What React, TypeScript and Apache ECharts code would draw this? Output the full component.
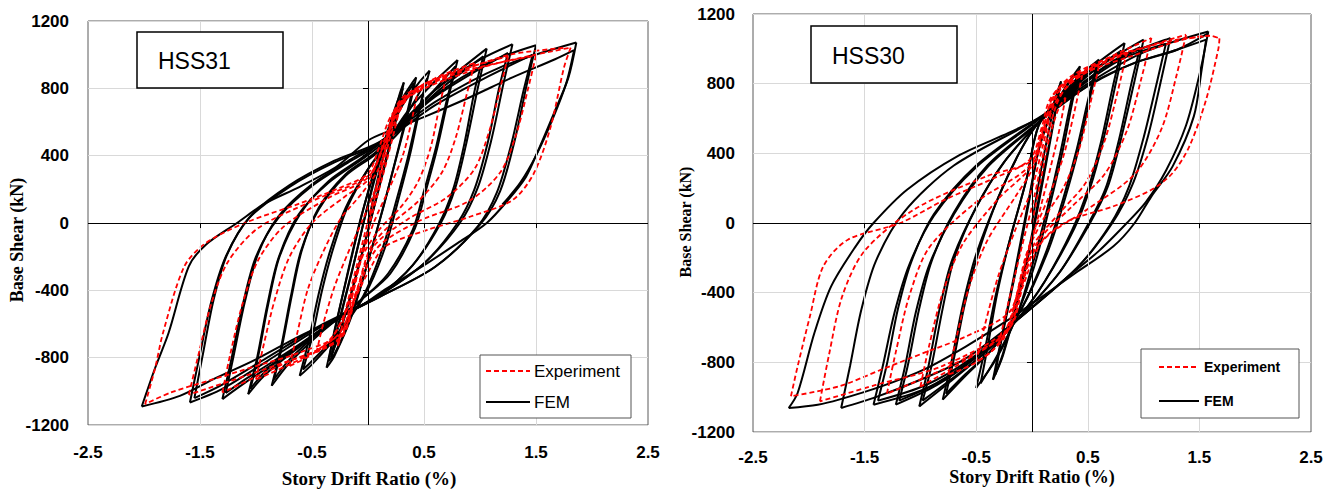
import React, { useEffect, useRef } from "react";
import * as echarts from "echarts";

const xTicks = [-2.5, -1.5, -0.5, 0.5, 1.5, 2.5];
const yTicks = [-1200, -800, -400, 0, 400, 800, 1200];
const seriesNames = ["Experiment", "FEM"];
const panelTitles = ["HSS31", "HSS30"];
const xAxisName = "Story Drift Ratio (%)";
const yAxisName = "Base Shear (kN)";

const femHSS31: number[][] = [
  [0, 0], [0.1, 300], [0.2, 560], [0.28, 760], [0.32, 835],
  [0.26, 650], [0.16, 380], [0.04, 60], [-0.1, -300], [-0.24, -620], [-0.33, -800],
  [-0.26, -600], [-0.14, -280], [-0.02, 60], [0.1, 380], [0.24, 680], [0.31, 800],
  [0.25, 610], [0.15, 340], [0.03, 30], [-0.11, -320], [-0.24, -630], [-0.32, -770],
  [-0.25, -560], [-0.13, -250], [-0.01, 80], [0.12, 400], [0.3, 730], [0.43, 865],
  [0.36, 660], [0.25, 380], [0.14, 100], [0.0, -230], [-0.15, -560], [-0.3, -790], [-0.37, -859],
  [-0.3, -650], [-0.19, -320], [-0.06, 40], [0.1, 390], [0.28, 690], [0.41, 830],
  [0.34, 630], [0.24, 360], [0.13, 80], [-0.01, -250], [-0.16, -570], [-0.3, -780], [-0.35, -820],
  [-0.3, -640], [-0.18, -300], [-0.05, 60], [0.1, 400], [0.3, 690], [0.45, 830], [0.55, 905],
  [0.47, 700], [0.38, 420], [0.28, 160], [0.15, -150], [-0.03, -430], [-0.3, -690], [-0.5, -840], [-0.61, -908],
  [-0.53, -700], [-0.44, -420], [-0.34, -170], [-0.2, 90], [0.0, 320], [0.15, 450], [0.35, 650], [0.53, 860],
  [0.45, 660], [0.36, 400], [0.26, 150], [0.13, -150], [-0.04, -430], [-0.3, -680], [-0.5, -820], [-0.58, -870],
  [-0.5, -680], [-0.41, -400], [-0.31, -150], [-0.18, 100], [0.0, 320], [0.15, 460], [0.35, 660], [0.58, 830], [0.8, 968],
  [0.72, 750], [0.62, 450], [0.52, 200], [0.42, -30], [0.2, -300], [-0.05, -450], [-0.4, -640], [-0.7, -830], [-0.86, -967],
  [-0.78, -750], [-0.69, -440], [-0.6, -170], [-0.44, 80], [-0.2, 280], [0.05, 400], [0.25, 520], [0.5, 720], [0.78, 930],
  [0.7, 720], [0.6, 430], [0.5, 190], [0.4, -40], [0.18, -300], [-0.05, -450], [-0.4, -630], [-0.7, -810], [-0.84, -930],
  [-0.77, -740], [-0.68, -430], [-0.59, -160], [-0.44, 90], [-0.2, 290], [0.05, 410], [0.25, 540], [0.55, 760], [0.82, 910], [1.06, 1036],
  [0.98, 800], [0.88, 480], [0.78, 210], [0.65, 0], [0.4, -250], [0.1, -430], [-0.2, -540], [-0.6, -730], [-0.9, -890], [-1.07, -1017],
  [-0.99, -800], [-0.9, -490], [-0.8, -210], [-0.62, 50], [-0.35, 240], [-0.05, 380], [0.2, 510], [0.6, 770], [1.03, 990],
  [0.95, 780], [0.86, 470], [0.76, 200], [0.63, -10], [0.4, -250], [0.1, -430], [-0.2, -540], [-0.6, -720], [-0.9, -870], [-1.05, -985],
  [-0.98, -790], [-0.89, -480], [-0.79, -200], [-0.6, 60], [-0.35, 250], [-0.05, 390], [0.2, 530], [0.6, 790], [1.0, 970], [1.29, 1062],
  [1.21, 830], [1.1, 490], [0.98, 210], [0.82, 0], [0.5, -240], [0.1, -430], [-0.3, -580], [-0.7, -770], [-1.1, -950], [-1.3, -1046],
  [-1.22, -810], [-1.12, -490], [-1.0, -200], [-0.8, 30], [-0.5, 220], [-0.15, 370], [0.15, 490], [0.6, 750], [1.25, 1010],
  [1.17, 800], [1.07, 480], [0.95, 200], [0.8, 0], [0.5, -240], [0.1, -430], [-0.3, -580], [-0.7, -760], [-1.1, -930], [-1.27, -1010],
  [-1.2, -790], [-1.1, -470], [-0.98, -180], [-0.8, 40], [-0.5, 230], [-0.15, 380], [0.15, 500], [0.6, 760], [1.1, 960], [1.5, 1056],
  [1.42, 830], [1.31, 490], [1.18, 190], [1.0, -10], [0.6, -260], [0.1, -440], [-0.4, -610], [-0.9, -820], [-1.3, -985], [-1.59, -1066],
  [-1.51, -810], [-1.4, -470], [-1.27, -200], [-1.06, 30], [-0.7, 215], [-0.3, 360], [0.1, 470], [0.6, 700], [1.1, 880], [1.47, 1000],
  [1.39, 790], [1.28, 470], [1.15, 180], [0.98, -20], [0.6, -260], [0.1, -440], [-0.4, -600], [-0.9, -800], [-1.3, -960], [-1.55, -1040],
  [-1.48, -800], [-1.38, -460], [-1.26, -190], [-1.05, 40], [-0.7, 225], [-0.3, 370], [0.1, 480], [0.6, 720], [1.2, 930], [1.86, 1072],
  [1.79, 865], [1.67, 668], [1.52, 432], [1.41, 274], [1.25, 136], [1.06, 0], [0.8, -120], [0.53, -238], [0.15, -396], [0, -465],
  [-0.23, -554], [-0.61, -672], [-1.0, -810], [-1.38, -928], [-1.68, -1027], [-2.02, -1090],
  [-1.9, -860], [-1.78, -652], [-1.6, -258], [-1.45, -130], [-1.17, 0], [-0.92, 116], [-0.61, 215], [-0.27, 340], [0, 490],
  [0.22, 555], [0.53, 638], [0.91, 747], [1.29, 865], [1.67, 973], [1.84, 1027],
  [1.77, 830], [1.65, 620], [1.5, 400], [1.36, 240], [1.2, 110]
];

const expHSS31: number[][] = [
  [0, 0], [0.08, 200], [0.16, 450], [0.24, 650], [0.3, 730],
  [0.24, 560], [0.14, 300], [0.04, 60], [-0.08, -250], [-0.18, -550], [-0.27, -731],
  [-0.2, -520], [-0.08, -200], [0.04, 120], [0.15, 420], [0.25, 650], [0.35, 760], [0.45, 800],
  [0.4, 640], [0.32, 420], [0.2, 220], [0.05, 0], [-0.08, -250], [-0.2, -520], [-0.32, -680], [-0.46, -770],
  [-0.4, -600], [-0.3, -380], [-0.18, -180], [-0.02, 60], [0.12, 300], [0.22, 560], [0.35, 740], [0.52, 820], [0.7, 870],
  [0.64, 700], [0.56, 450], [0.45, 250], [0.3, 100], [0.1, -40], [-0.05, -200], [-0.15, -450], [-0.3, -660], [-0.5, -780], [-0.7, -850],
  [-0.63, -650], [-0.54, -400], [-0.42, -200], [-0.25, 20], [-0.05, 180], [0.1, 330], [0.2, 560], [0.35, 750], [0.6, 860], [0.95, 950],
  [0.88, 760], [0.78, 500], [0.66, 300], [0.45, 130], [0.2, -10], [0.02, -150], [-0.1, -400], [-0.25, -650], [-0.55, -790], [-1.0, -930],
  [-0.93, -720], [-0.83, -450], [-0.7, -200], [-0.5, 0], [-0.2, 160], [0.02, 270], [0.15, 500], [0.3, 740], [0.7, 880], [1.25, 990],
  [1.18, 800], [1.08, 540], [0.95, 320], [0.7, 150], [0.35, 20], [0.05, -140], [-0.1, -400], [-0.25, -680], [-0.7, -820], [-1.3, -1007],
  [-1.23, -780], [-1.12, -480], [-0.98, -220], [-0.75, -20], [-0.35, 150], [0.0, 270], [0.15, 480], [0.3, 720], [0.8, 890], [1.5, 995],
  [1.43, 800], [1.32, 520], [1.18, 300], [0.9, 130], [0.45, 10], [0.08, -150], [-0.1, -420], [-0.25, -690], [-0.8, -840], [-1.6, -1020],
  [-1.52, -800], [-1.4, -480], [-1.25, -230], [-0.98, -30], [-0.5, 130], [0, 280], [0.15, 470], [0.3, 720], [1.0, 920], [1.81, 1042],
  [1.75, 924], [1.63, 569], [1.48, 294], [1.29, 136], [0.91, 37], [0.53, -41], [0.15, -140], [0.03, -258], [-0.12, -455],
  [-0.23, -652], [-0.61, -770], [-1.0, -850], [-1.38, -928], [-1.76, -1007], [-1.99, -1076],
  [-1.9, -860], [-1.83, -652], [-1.64, -258], [-1.45, -120], [-1.1, 0], [-0.61, 116], [-0.23, 215], [0, 294], [0.1, 450],
  [0.22, 650], [0.5, 820], [0.91, 924], [1.29, 1003], [1.75, 1040]
];

const femHSS30: number[][] = [
  [0, 0], [0.08, 300], [0.16, 560], [0.22, 730], [0.26, 813],
  [0.2, 600], [0.1, 250], [-0.02, -150], [-0.14, -480], [-0.26, -760], [-0.35, -900],
  [-0.28, -680], [-0.16, -300], [-0.04, 100], [0.06, 420], [0.16, 620], [0.25, 790],
  [0.19, 580], [0.09, 240], [-0.03, -160], [-0.15, -490], [-0.26, -750], [-0.33, -870],
  [-0.27, -660], [-0.15, -290], [-0.03, 110], [0.06, 420], [0.18, 640], [0.32, 800], [0.43, 900],
  [0.36, 690], [0.27, 400], [0.16, 100], [0.02, -250], [-0.14, -540], [-0.32, -780], [-0.5, -947],
  [-0.42, -720], [-0.32, -400], [-0.2, -100], [-0.05, 250], [0.06, 560], [0.25, 730], [0.41, 870],
  [0.34, 670], [0.25, 390], [0.14, 90], [0.0, -250], [-0.14, -540], [-0.32, -770], [-0.46, -920],
  [-0.4, -720], [-0.31, -400], [-0.2, -100], [-0.05, 250], [0.06, 560], [0.25, 720], [0.42, 840], [0.6, 938],
  [0.52, 720], [0.42, 430], [0.3, 150], [0.15, -150], [-0.1, -500], [-0.35, -720], [-0.6, -880], [-0.8, -1014],
  [-0.72, -790], [-0.62, -470], [-0.5, -180], [-0.3, 150], [-0.1, 420], [0.05, 570], [0.3, 740], [0.58, 910],
  [0.5, 700], [0.4, 420], [0.28, 140], [0.13, -160], [-0.1, -500], [-0.35, -720], [-0.6, -870], [-0.77, -980],
  [-0.7, -780], [-0.6, -460], [-0.48, -170], [-0.3, 150], [-0.1, 420], [0.05, 570], [0.3, 750], [0.55, 900], [0.83, 1033],
  [0.75, 800], [0.64, 480], [0.52, 200], [0.38, -30], [0.12, -330], [-0.14, -560], [-0.45, -760], [-0.75, -920], [-1.01, -1053],
  [-0.93, -830], [-0.83, -500], [-0.72, -220], [-0.5, 90], [-0.25, 350], [0.05, 570], [0.35, 760], [0.6, 900], [0.8, 990],
  [0.72, 770], [0.62, 470], [0.5, 190], [0.36, -40], [0.11, -340], [-0.14, -560], [-0.45, -760], [-0.75, -910], [-0.98, -1020],
  [-0.9, -820], [-0.8, -490], [-0.7, -210], [-0.5, 90], [-0.25, 350], [0.05, 570], [0.35, 770], [0.68, 930], [1.0, 1053],
  [0.92, 820], [0.8, 490], [0.68, 210], [0.52, 0], [0.25, -280], [-0.14, -560], [-0.5, -770], [-0.85, -930], [-1.22, -1043],
  [-1.14, -830], [-1.04, -510], [-0.92, -240], [-0.7, 50], [-0.4, 320], [0.05, 570], [0.4, 770], [0.7, 920], [0.97, 1010],
  [0.89, 800], [0.78, 480], [0.66, 200], [0.5, -10], [0.24, -290], [-0.14, -560], [-0.5, -770], [-0.85, -920], [-1.19, -1020],
  [-1.11, -810], [-1.01, -490], [-0.9, -220], [-0.7, 60], [-0.4, 330], [0.05, 575], [0.4, 780], [0.8, 950], [1.24, 1062],
  [1.16, 830], [1.04, 500], [0.9, 220], [0.72, 0], [0.4, -260], [-0.14, -560], [-0.55, -790], [-0.95, -950], [-1.42, -1043],
  [-1.34, -830], [-1.23, -510], [-1.1, -240], [-0.88, 40], [-0.5, 320], [0.02, 575], [0.4, 770], [0.8, 940], [1.2, 1030],
  [1.12, 810], [1.0, 490], [0.87, 210], [0.7, -10], [0.4, -260], [-0.14, -560], [-0.55, -780], [-0.95, -930], [-1.38, -1020],
  [-1.3, -810], [-1.2, -490], [-1.08, -220], [-0.88, 50], [-0.5, 330], [0.02, 580], [0.5, 800], [1.0, 980], [1.58, 1100],
  [1.5, 850], [1.38, 560], [1.2, 300], [1.02, 120], [0.85, 0], [0.6, -160], [0.3, -320], [-0.14, -560], [-0.6, -780],
  [-1.0, -900], [-1.4, -1000], [-1.71, -1062],
  [-1.63, -820], [-1.53, -500], [-1.4, -220], [-1.15, 60], [-0.7, 330], [0.0, 580], [0.54, 800], [0.92, 919], [1.3, 995], [1.56, 1053],
  [1.52, 880], [1.45, 612], [1.26, 325], [1.07, 153], [0.92, 0], [0.73, -134], [0.39, -287], [0.01, -459], [-0.21, -555],
  [-0.59, -708], [-0.97, -842], [-1.35, -938], [-1.73, -1014], [-1.92, -1043], [-2.18, -1062],
  [-2.1, -976], [-1.95, -632], [-1.8, -364], [-1.58, -134], [-1.42, 0], [-1.12, 191], [-0.67, 383], [-0.21, 517], [0.01, 584],
  [0.16, 631], [0.54, 804], [0.92, 919], [1.3, 995], [1.58, 1090]
];

const expHSS30: number[][] = [
  [0, 0], [0.08, 250], [0.16, 500], [0.24, 660], [0.3, 720],
  [0.24, 520], [0.14, 250], [0.02, -50], [-0.1, -320], [-0.2, -560], [-0.3, -700],
  [-0.22, -480], [-0.1, -160], [0.02, 150], [0.12, 450], [0.22, 680], [0.32, 790], [0.45, 850],
  [0.38, 640], [0.28, 380], [0.15, 150], [0.0, -80], [-0.1, -320], [-0.2, -580], [-0.35, -730], [-0.5, -800],
  [-0.42, -580], [-0.3, -300], [-0.15, -40], [0.0, 200], [0.1, 450], [0.2, 680], [0.38, 820], [0.6, 900],
  [0.52, 680], [0.42, 420], [0.28, 200], [0.1, 20], [-0.05, -180], [-0.15, -450], [-0.25, -660], [-0.5, -800], [-0.75, -870],
  [-0.67, -640], [-0.56, -360], [-0.4, -100], [-0.15, 150], [0.02, 330], [0.12, 540], [0.22, 740], [0.5, 880], [0.85, 980],
  [0.77, 760], [0.65, 470], [0.48, 230], [0.25, 60], [0.02, -120], [-0.1, -380], [-0.22, -620], [-0.6, -790], [-1.0, -940],
  [-0.92, -700], [-0.8, -400], [-0.62, -120], [-0.3, 140], [0.0, 330], [0.1, 540], [0.22, 760], [0.6, 920], [1.07, 1062],
  [0.98, 830], [0.85, 530], [0.65, 280], [0.35, 90], [0.05, -110], [-0.1, -380], [-0.22, -620], [-0.7, -810], [-1.3, -980],
  [-1.22, -740], [-1.1, -420], [-0.92, -140], [-0.5, 120], [-0.02, 330], [0.1, 550], [0.25, 780], [0.8, 960], [1.38, 1081],
  [1.3, 860], [1.16, 540], [0.92, 280], [0.5, 80], [0.1, -100], [-0.08, -360], [-0.2, -600], [-0.8, -820], [-1.4, -930], [-1.9, -1024],
  [-1.82, -760], [-1.7, -420], [-1.5, -160], [-1.05, 80], [-0.4, 270], [0.0, 360], [0.12, 560], [0.3, 800], [0.9, 960],
  [1.6, 1075], [1.68, 1060],
  [1.67, 1000], [1.56, 708], [1.41, 440], [1.26, 287], [1.07, 191], [0.73, 96], [0.35, 19], [0.16, -57], [0.01, -172], [-0.1, -344],
  [-0.21, -517], [-0.59, -651], [-0.97, -746], [-1.35, -842], [-1.73, -938], [-2.16, -995],
  [-2.1, -823], [-1.99, -536], [-1.87, -249], [-1.65, -96], [-1.18, 0], [-0.78, 134], [-0.37, 249], [-0.02, 364], [0.09, 555],
  [0.16, 708], [0.35, 842], [0.73, 957], [1.3, 1053], [1.55, 1070]
];

const panels = [
  {
    title: panelTitles[0], exp: expHSS31, fem: femHSS31,
    grid: { left: 88, top: 21, width: 560, height: 404 },
    xMargin: 19, yMargin: 19,
    box: { x: 137, y: 32, w: 146, h: 56, tx: 158, ty: 61 },
    legend: { x: 480, y: 355, w: 151, h: 63, l1: 486, l2: 530, r1: 371, r2: 402, tx: 534, font: "17px 'Liberation Sans'" },
    yName: { x: 17, y: 240, font: "bold 18px 'Liberation Serif'" },
    xName: { x: 369, y: 478, font: "bold 19px 'Liberation Serif'" }
  },
  {
    title: panelTitles[1], exp: expHSS30, fem: femHSS30,
    grid: { left: 753, top: 14, width: 558, height: 418 },
    xMargin: 17, yMargin: 18,
    box: { x: 811, y: 26, w: 146, h: 57, tx: 832, ty: 56 },
    legend: { x: 1141, y: 349, w: 158, h: 69, l1: 1159, l2: 1199, r1: 367, r2: 401, tx: 1204, font: "bold 14px 'Liberation Sans'" },
    yName: { x: 685, y: 222, font: "bold 16px 'Liberation Serif'" },
    xName: { x: 1032, y: 477, font: "bold 18px 'Liberation Serif'" }
  }
];

// split a hysteresis path into half-cycles at each reversal of drift direction
function halfCycles(pts: number[][]): number[][][] {
  const out: number[][][] = [];
  let cur: number[][] = [pts[0]];
  let dir = 0;
  for (let k = 1; k < pts.length; k++) {
    const d = Math.sign(pts[k][0] - pts[k - 1][0]);
    if (dir !== 0 && d !== 0 && d !== dir) {
      out.push(cur);
      cur = [pts[k - 1]];
    }
    if (d !== 0) dir = d;
    cur.push(pts[k]);
  }
  out.push(cur);
  return out;
}

export default function App() {
  const ref = useRef<HTMLDivElement>(null);
  useEffect(() => {
    document.body.style.margin = "0";
    if (!ref.current) return;
    const chart = echarts.init(ref.current, undefined, { renderer: "svg" });
    const labelStyle = { color: "#000", fontFamily: "'Liberation Sans'", fontWeight: "bold" as const, fontSize: 17 };
    const grids: any[] = [];
    const xAxes: any[] = [];
    const yAxes: any[] = [];
    const series: any[] = [];
    const graphic: any[] = [];
    const centered = { textAlign: "center", textVerticalAlign: "middle", align: "center", verticalAlign: "middle" };
    const leftMid = { textAlign: "left", textVerticalAlign: "middle", align: "left", verticalAlign: "middle" };
    const blackLine = { color: "#000", width: 1, type: "solid" };
    panels.forEach((p, i) => {
      grids.push({ ...p.grid, show: true, borderColor: "#5a5a5a", borderWidth: 1, containLabel: false });
      xAxes.push({
        gridIndex: i, type: "value", min: -2.5, max: 2.5, interval: 0.5,
        axisLine: { show: false }, axisTick: { show: false }, splitLine: { show: false },
        axisLabel: {
          ...labelStyle, margin: p.xMargin,
          formatter: (v: number) => (xTicks.some((t) => Math.abs(t - v) < 1e-6) ? v.toFixed(1) : "")
        }
      });
      yAxes.push({
        gridIndex: i, type: "value", min: yTicks[0], max: yTicks[yTicks.length - 1], interval: 400,
        axisLine: { show: false }, axisTick: { show: false },
        splitLine: { show: true, lineStyle: { color: "#d9d9d9", width: 1 } },
        axisLabel: { ...labelStyle, margin: p.yMargin, formatter: (v: number) => String(v) }
      });
      const innerX = xTicks.filter((t) => Math.abs(t) < 2.4);
      const innerY = yTicks.filter((t) => t !== 0 && Math.abs(t) < 1100);
      series.push({
        type: "line", xAxisIndex: i, yAxisIndex: i, data: [[0, 0]], showSymbol: false, symbol: "none",
        lineStyle: { opacity: 0 }, silent: true, z: 1,
        markLine: {
          silent: true, symbol: "none", label: { show: false }, animation: false,
          lineStyle: { color: "#d9d9d9", type: "solid", width: 1 },
          data: [
            ...innerX.map((t) => ({ xAxis: t })),
            { xAxis: 0, lineStyle: blackLine },
            { yAxis: 0, lineStyle: blackLine },
            ...innerY.map((t) => [{ coord: [0, t], lineStyle: blackLine }, { coord: [-0.045, t] }]),
            ...innerX.map((t) => [{ coord: [t, 0], lineStyle: blackLine }, { coord: [t, -30] }])
          ]
        }
      });
      halfCycles(p.fem).forEach((seg) => {
        series.push({
          name: seriesNames[1], type: "line", xAxisIndex: i, yAxisIndex: i, data: seg,
          showSymbol: false, symbol: "none", smooth: 0.3, z: 3, silent: true,
          lineStyle: { color: "#000", width: 2 }
        });
      });
      halfCycles(p.exp).forEach((seg) => {
        series.push({
          name: seriesNames[0], type: "line", xAxisIndex: i, yAxisIndex: i, data: seg,
          showSymbol: false, symbol: "none", smooth: 0.3, z: 4, silent: true,
          lineStyle: { color: "#ff0000", width: 1.8, type: [5, 3] }
        });
      });
      const b = p.box;
      graphic.push({
        type: "rect", shape: { x: b.x, y: b.y, width: b.w, height: b.h }, z: 10,
        style: { fill: "#fff", stroke: "#000", lineWidth: 1.5 }
      });
      graphic.push({
        type: "text", x: b.tx, y: b.ty, z: 11,
        style: { text: p.title, font: "23px 'Liberation Sans'", fill: "#000", ...leftMid }
      });
      const l = p.legend;
      graphic.push({
        type: "rect", shape: { x: l.x, y: l.y, width: l.w, height: l.h }, z: 10,
        style: { fill: "#fff", stroke: "#555", lineWidth: 1 }
      });
      graphic.push({
        type: "line", shape: { x1: l.l1, y1: l.r1, x2: l.l2, y2: l.r1 }, z: 11,
        style: { stroke: "#ff0000", lineWidth: 2, lineDash: [5, 3] }
      });
      graphic.push({
        type: "line", shape: { x1: l.l1, y1: l.r2, x2: l.l2, y2: l.r2 }, z: 11,
        style: { stroke: "#000", lineWidth: 2 }
      });
      graphic.push({
        type: "text", x: l.tx, y: l.r1, z: 11,
        style: { text: seriesNames[0], font: l.font, fill: "#000", ...leftMid }
      });
      graphic.push({
        type: "text", x: l.tx, y: l.r2, z: 11,
        style: { text: seriesNames[1], font: l.font, fill: "#000", ...leftMid }
      });
      graphic.push({
        type: "text", x: p.yName.x, y: p.yName.y, rotation: Math.PI / 2, z: 11,
        style: { text: yAxisName, font: p.yName.font, fill: "#000", ...centered }
      });
      graphic.push({
        type: "text", x: p.xName.x, y: p.xName.y, z: 11,
        style: { text: xAxisName, font: p.xName.font, fill: "#000", ...centered }
      });
    });
    chart.setOption({
      animation: false,
      backgroundColor: "#fff",
      grid: grids,
      xAxis: xAxes,
      yAxis: yAxes,
      series,
      graphic
    });
    return () => chart.dispose();
  }, []);
  return <div ref={ref} style={{ width: 1333, height: 491 }} />;
}
